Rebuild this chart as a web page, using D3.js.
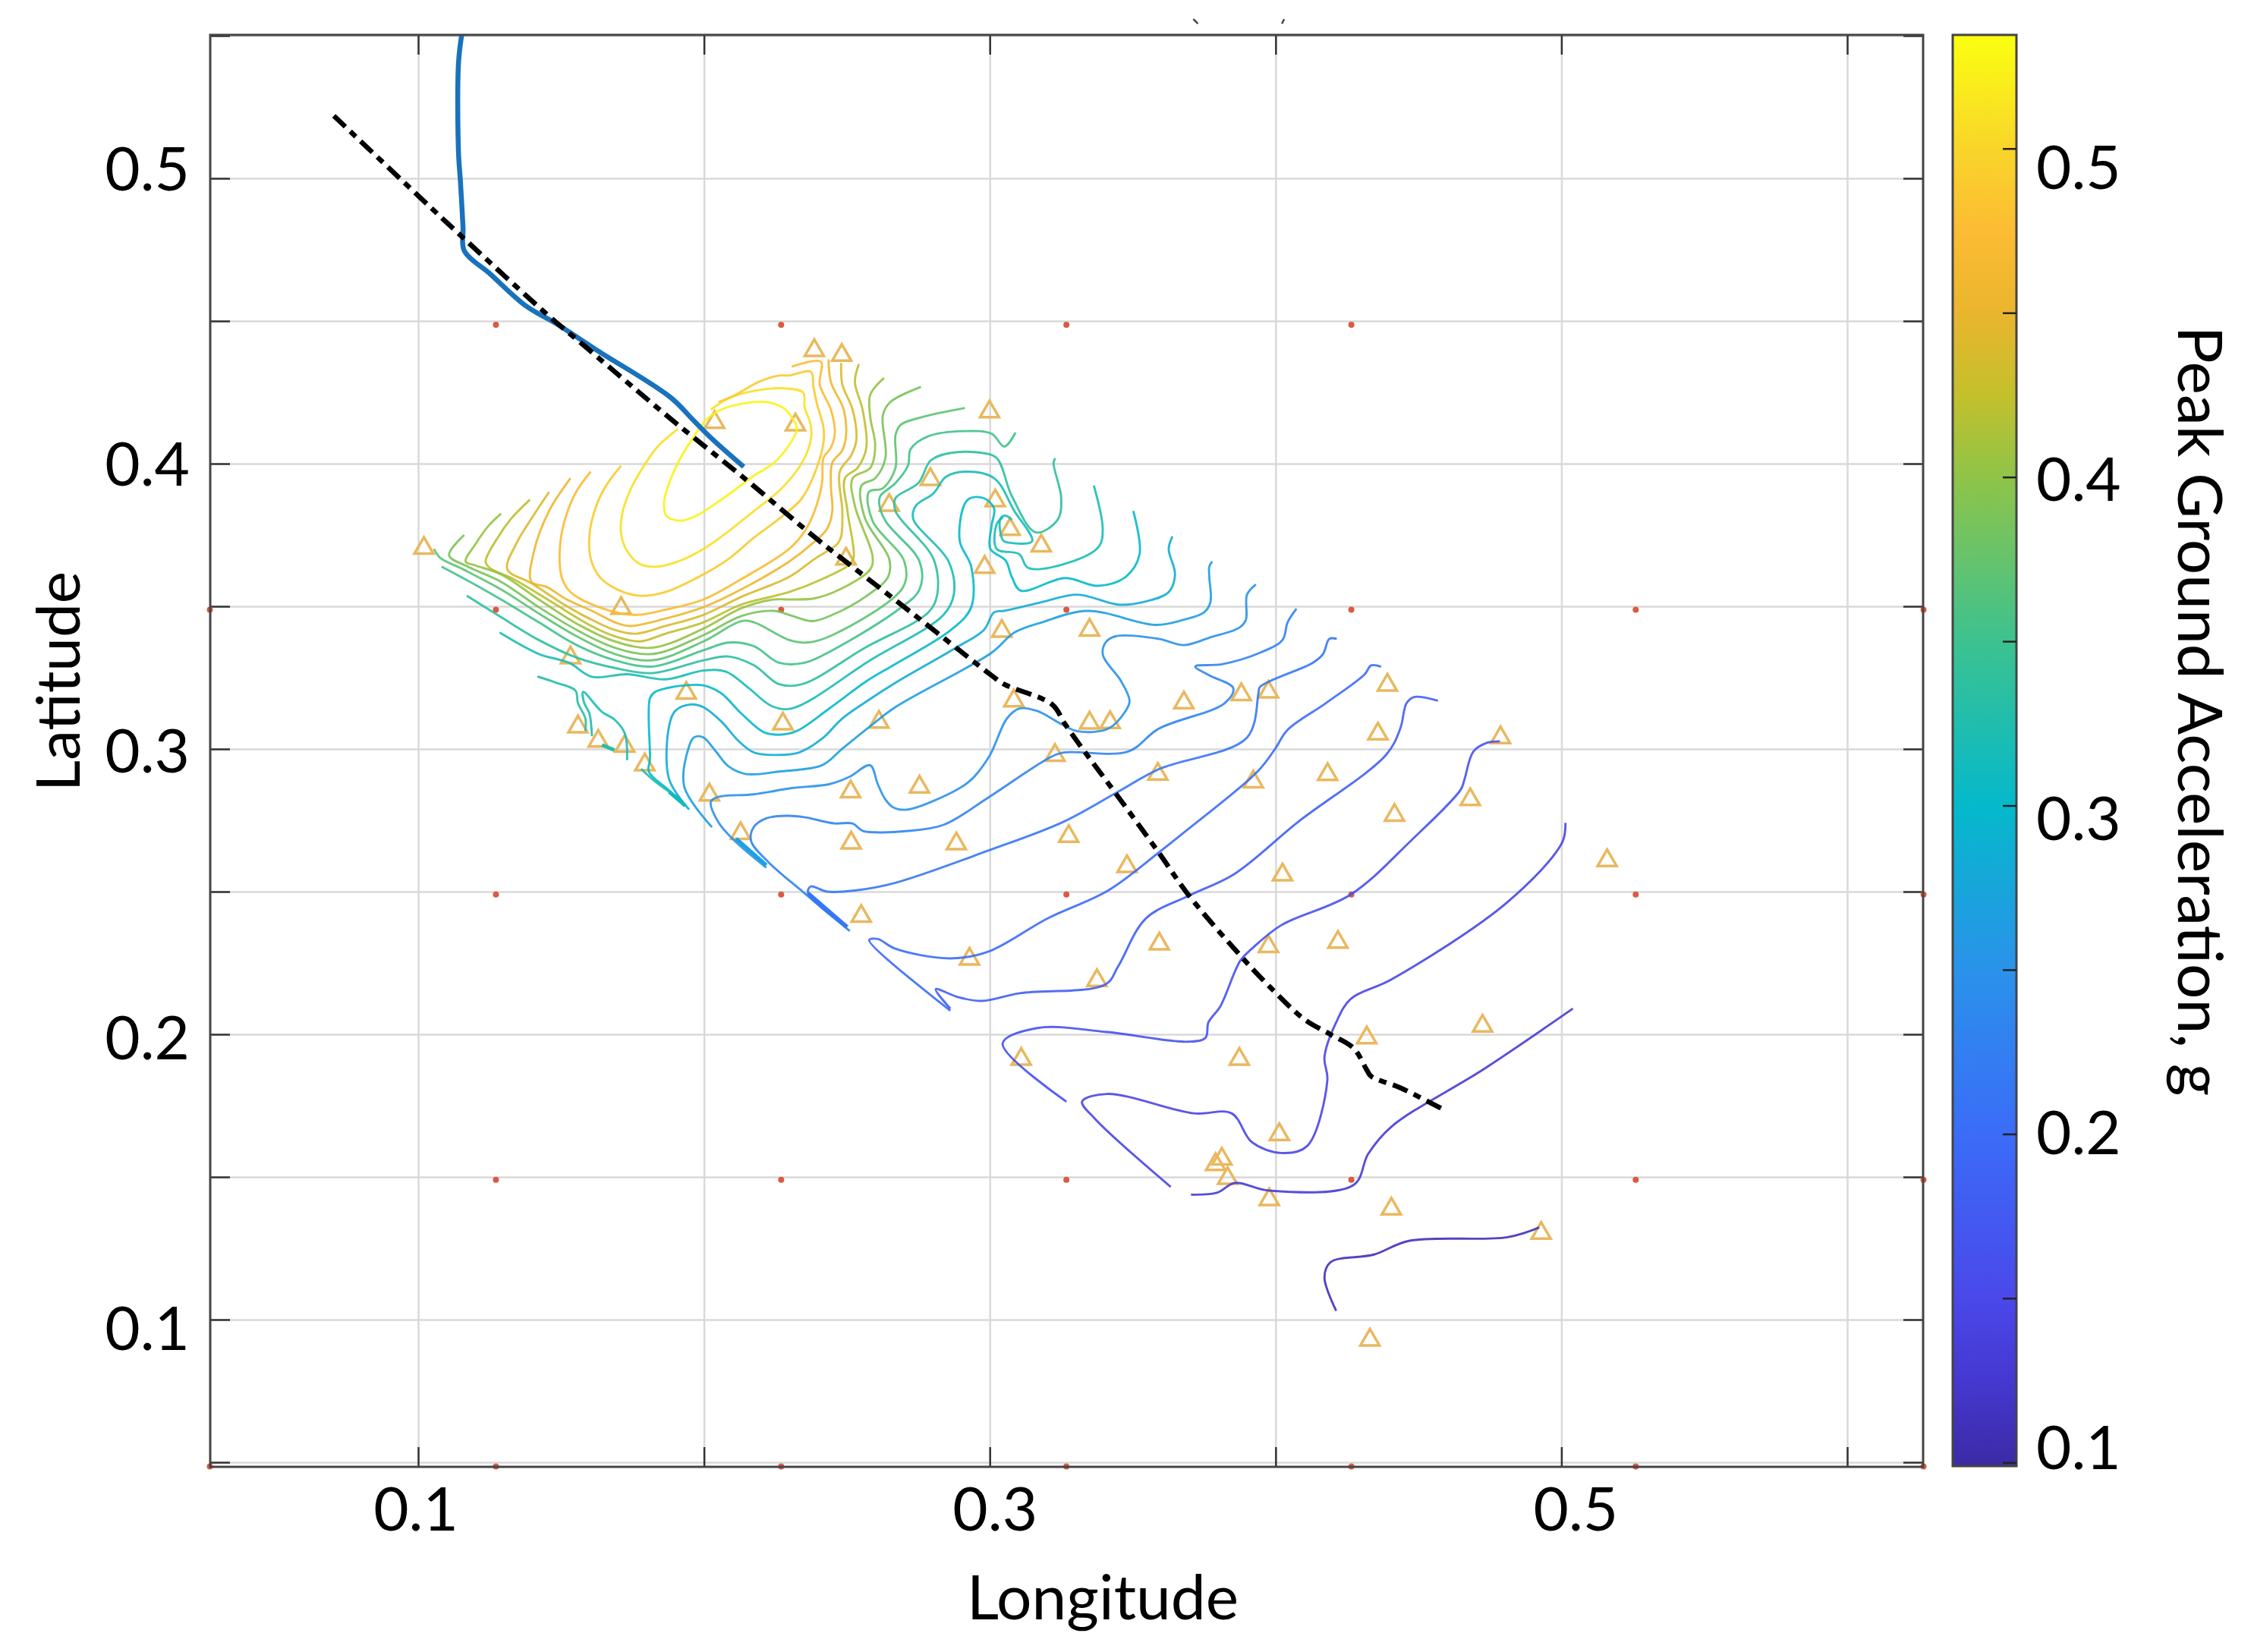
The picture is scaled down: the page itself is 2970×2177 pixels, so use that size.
<!DOCTYPE html>
<html>
<head>
<meta charset="utf-8">
<title>Peak ground acceleration</title>
<script src="https://cdn.jsdelivr.net/npm/d3@7"></script>
<style>
  html, body { margin: 0; padding: 0; background: #fff; }
  text { font-family: Lato, "Open Sans", sans-serif; fill: #000; }
</style>
</head>
<body>
<div id="chart"></div>
<script>
// tick values
var xGrid = [0.1, 0.2, 0.3, 0.4, 0.5, 0.6];
var yGrid = [0.05, 0.1, 0.15, 0.2, 0.25, 0.3, 0.35, 0.4, 0.45, 0.5, 0.55];
var xLabels = [0.1, 0.3, 0.5];
var yLabels = [0.1, 0.2, 0.3, 0.4, 0.5];
var cbTicks = [0.1, 0.15, 0.2, 0.25, 0.3, 0.35, 0.4, 0.45, 0.5];
var cbLabels = [0.1, 0.2, 0.3, 0.4, 0.5];

// colour bar
var cbValues = [0.099, 0.125, 0.15, 0.2, 0.25, 0.3, 0.35, 0.4, 0.425, 0.45, 0.475, 0.5, 0.5346];
var cbColors = ["#3c2aa5", "#4538d0", "#4a48ea", "#3b6cf8", "#2a92ea", "#05b9cb", "#3cc290", "#8fc448",
                "#c4c02c", "#eab52e", "#fcbc33", "#f9d52a", "#fbff10"];

// contour levels, one for each line below
var levels = [0.525, 0.508, 0.490, 0.473, 0.456, 0.439, 0.422, 0.404, 0.387, 0.370, 0.353, 0.336, 0.318,
              0.318, 0.301, 0.284, 0.266, 0.249, 0.232, 0.215, 0.198, 0.180, 0.163, 0.146, 0.129, 0.112,
              0.330, 0.320, 0.320];

// contour lines, [longitude, latitude]
var c01 = [[.2321,.4140],[.2281,.4193],[.2219,.4216],[.2139,.4211],[.2059,.4189],[.2006,.4153],[.1962,.4091],[.1918,.4020],[.1878,.3932],[.1860,.3861],[.1869,.3816],[.1918,.3800],[.1980,.3821],[.2042,.3861],[.2104,.3905],[.2175,.3958],[.2245,.4003],[.2298,.4065],[.2325,.4118],[.2321,.4140]];
var c02 = [[.1909,.4122],[.1838,.4060],[.1785,.3985],[.1741,.3905],[.1714,.3825],[.1710,.3754],[.1732,.3692],[.1776,.3648],[.1838,.3639],[.1909,.3657],[.1998,.3701],[.2086,.3763],[.2175,.3834],[.2263,.3905],[.2325,.3976],[.2360,.4038],[.2376,.4100],[.2371,.4145],[.2352,.4198],[.2347,.4249],[.2281,.4264],[.2175,.4255],[.2086,.4229],[.2024,.4189]];
var c03 = [[.1710,.3993],[.1652,.3914],[.1617,.3834],[.1599,.3745],[.1604,.3666],[.1635,.3603],[.1697,.3559],[.1776,.3537],[.1865,.3550],[.1998,.3612],[.2086,.3666],[.2175,.3741],[.2263,.3807],[.2343,.3879],[.2391,.3976],[.2418,.4074],[.2418,.4127],[.2396,.4207],[.2383,.4269],[.2374,.4322],[.2298,.4309],[.2263,.4309],[.2192,.4287],[.2104,.4238],[.2051,.4216]];
var c04 = [[.1604,.3972],[.1555,.3905],[.1520,.3825],[.1497,.3719],[.1502,.3603],[.1533,.3550],[.1644,.3493],[.1759,.3470],[.1865,.3488],[.1998,.3524],[.2130,.3595],[.2298,.3701],[.2352,.3763],[.2387,.3834],[.2413,.3932],[.2418,.4020],[.2444,.4056],[.2458,.4109],[.2444,.4189],[.2405,.4278],[.2409,.4357],[.2307,.4340]];
var c05 = [[.1533,.3949],[.1458,.3834],[.1405,.3692],[.1396,.3586],[.1449,.3568],[.1520,.3524],[.1608,.3484],[.1688,.3444],[.1741,.3431],[.1865,.3457],[.1998,.3497],[.2130,.3559],[.2298,.3657],[.2378,.3719],[.2431,.3772],[.2449,.3834],[.2444,.3923],[.2449,.4003],[.2484,.4047],[.2497,.4100],[.2489,.4189],[.2444,.4286],[.2436,.4366]];
var c06 = [[.1458,.3901],[.1396,.3807],[.1343,.3719],[.1312,.3630],[.1396,.3581],[.1511,.3506],[.1599,.3457],[.1688,.3417],[.1759,.3404],[.1865,.3431],[.1998,.3470],[.2130,.3533],[.2298,.3603],[.2387,.3666],[.2467,.3719],[.2480,.3745],[.2484,.3834],[.2475,.3972],[.2515,.4029],[.2533,.4082],[.2520,.4189],[.2484,.4278],[.2480,.4353]];
var c07 = [[.1391,.3874],[.1325,.3807],[.1281,.3745],[.1236,.3657],[.1250,.3635],[.1334,.3595],[.1467,.3515],[.1599,.3435],[.1688,.3395],[.1776,.3377],[.1865,.3404],[.1998,.3444],[.2130,.3506],[.2298,.3550],[.2413,.3595],[.2511,.3648],[.2524,.3674],[.2502,.3834],[.2493,.3949],[.2537,.3985],[.2568,.4056],[.2555,.4189],[.2528,.4286],[.2542,.4349]];
var c08 = [[.1290,.3825],[.1245,.3781],[.1201,.3719],[.1166,.3657],[.1201,.3643],[.1290,.3612],[.1422,.3524],[.1555,.3439],[.1688,.3377],[.1821,.3355],[.1998,.3422],[.2130,.3493],[.2245,.3524],[.2298,.3524],[.2387,.3528],[.2475,.3559],[.2582,.3630],[.2590,.3674],[.2528,.3852],[.2520,.3949],[.2582,.3985],[.2599,.4065],[.2582,.4162],[.2582,.4242],[.2630,.4300]];
var c09 = [[.1161,.3750],[.1108,.3679],[.1174,.3639],[.1290,.3586],[.1422,.3497],[.1555,.3417],[.1688,.3355],[.1821,.3333],[.1998,.3399],[.2130,.3466],[.2245,.3484],[.2298,.3470],[.2378,.3448],[.2449,.3470],[.2564,.3533],[.2644,.3603],[.2648,.3666],[.2564,.3807],[.2551,.3923],[.2599,.3949],[.2635,.4020],[.2626,.4171],[.2652,.4216],[.2759,.4269]];
var c10 = [[.1055,.3701],[.1077,.3670],[.1157,.3630],[.1290,.3559],[.1422,.3475],[.1555,.3395],[.1688,.3333],[.1821,.3311],[.1998,.3377],[.2130,.3448],[.2175,.3444],[.2298,.3382],[.2360,.3373],[.2449,.3399],[.2697,.3568],[.2701,.3657],[.2590,.3799],[.2577,.3901],[.2626,.3914],[.2670,.3985],[.2670,.4100],[.2688,.4136],[.2759,.4162],[.2913,.4195]];
var c11 = [[.1082,.3639],[.1157,.3599],[.1290,.3524],[.1422,.3444],[.1555,.3364],[.1688,.3311],[.1821,.3289],[.1998,.3346],[.2086,.3373],[.2175,.3360],[.2263,.3302],[.2352,.3302],[.2449,.3346],[.2679,.3488],[.2754,.3559],[.2754,.3657],[.2635,.3799],[.2613,.3861],[.2617,.3887],[.2670,.3932],[.2714,.3994],[.2723,.4051],[.2785,.4096],[.2909,.4114],[.3006,.4105],[.3051,.4060],[.3090,.4109]];
var c12 = [[.1170,.3537],[.1290,.3462],[.1422,.3382],[.1555,.3320],[.1688,.3284],[.1821,.3266],[.1998,.3311],[.2086,.3324],[.2175,.3293],[.2263,.3227],[.2343,.3227],[.2564,.3355],[.2785,.3479],[.2816,.3541],[.2803,.3666],[.2670,.3834],[.2670,.3879],[.2750,.3932],[.2794,.4012],[.2865,.4038],[.2971,.4038],[.3024,.4020],[.3077,.3887],[.3161,.3759],[.3237,.3803],[.3250,.3879],[.3223,.4003],[.3229,.4019]];
var c13 = [[.1285,.3408],[.1422,.3333],[.1528,.3302],[.1608,.3253],[.1732,.3262],[.1865,.3244],[.1998,.3275],[.2077,.3271],[.2157,.3213],[.2236,.3151],[.2307,.3142],[.2582,.3311],[.2838,.3470],[.2874,.3541],[.2856,.3657],[.2732,.3807],[.2741,.3852],[.2803,.3896],[.2847,.3954],[.2918,.3972],[.3015,.3949],[.3086,.3834],[.3148,.3728],[.3068,.3723],[.3046,.3732],[.3037,.3807],[.3055,.3818],[.3077,.3803]];
var c13b = [[.3046,.3812],[.3025,.3790],[.3024,.3701],[.3103,.3683],[.3134,.3635],[.3272,.3652],[.3382,.3710],[.3395,.3772],[.3364,.3923]];
var c14 = [[.1926,.2815],[.1873,.2859],[.1807,.2921],[.1811,.2965],[.1811,.3178],[.1829,.3200],[.1873,.3214],[.1935,.3223],[.1997,.3223],[.2059,.3196],[.2130,.3125],[.2209,.3059],[.2263,.3050],[.2324,.3063],[.2440,.3143],[.2572,.3240],[.2670,.3298],[.2864,.3417],[.2935,.3497],[.2935,.3639],[.2895,.3728],[.2909,.3852],[.2931,.3879],[.2979,.3879],[.3015,.3843],[.3006,.3781],[.3002,.3701],[.3055,.3661],[.3077,.3603],[.3108,.3555],[.3263,.3599],[.3378,.3572],[.3475,.3603],[.3524,.3683],[.3502,.3834]];
var c15 = [[.1948,.2788],[.1878,.2894],[.1878,.3081],[.1900,.3134],[.1953,.3156],[.1997,.3147],[.2059,.3098],[.2121,.3028],[.2174,.2988],[.2245,.2979],[.2333,.2988],[.2413,.3036],[.2484,.3107],[.2572,.3169],[.2670,.3232],[.2882,.3355],[.2979,.3417],[.3015,.3479],[.3050,.3484],[.3183,.3515],[.3307,.3541],[.3449,.3506],[.3537,.3515],[.3626,.3550],[.3648,.3612],[.3626,.3701],[.3639,.3745]];
var c16 = [[.2028,.2726],[.1931,.2868],[.1948,.3010],[.1966,.3041],[.1997,.3041],[.2041,.2992],[.2086,.2939],[.2147,.2912],[.2263,.2921],[.2413,.2943],[.2484,.3001],[.2572,.3072],[.2670,.3147],[.3006,.3337],[.3086,.3408],[.3183,.3444],[.3342,.3484],[.3581,.3435],[.3679,.3453],[.3750,.3479],[.3772,.3515],[.3768,.3603],[.3768,.3639],[.3778,.3657]];
var c17 = [[.2218,.2584],[.2103,.2682],[.2050,.2744],[.2024,.2815],[.2050,.2832],[.2174,.2841],[.2307,.2863],[.2440,.2877],[.2510,.2903],[.2581,.2943],[.2608,.2877],[.2634,.2824],[.2661,.2796],[.2706,.2787],[.2794,.2814],[.2927,.2885],[.2998,.2974],[.3060,.3107],[.3104,.3142],[.3166,.3133],[.3254,.3085],[.3307,.3062],[.3414,.3071],[.3475,.3133],[.3489,.3169],[.3458,.3240],[.3396,.3328],[.3405,.3373],[.3440,.3395],[.3591,.3386],[.3679,.3364],[.3768,.3390],[.3874,.3426],[.3896,.3453],[.3900,.3541],[.3931,.3577]];
var c18 = [[.2510,.2362],[.2351,.2495],[.2227,.2602],[.2165,.2677],[.2174,.2726],[.2218,.2757],[.2289,.2766],[.2351,.2761],[.2457,.2739],[.2519,.2739],[.2555,.2713],[.2599,.2708],[.2706,.2712],[.2838,.2734],[.2998,.2832],[.3201,.2965],[.3254,.2987],[.3484,.2991],[.3591,.3071],[.3821,.3160],[.3852,.3213],[.3768,.3258],[.3719,.3289],[.3812,.3297],[.3945,.3337],[.4024,.3382],[.4042,.3444],[.4073,.3492]];
var c19 = [[.2493,.2380],[.2364,.2495],[.2373,.2518],[.2431,.2500],[.2528,.2504],[.2670,.2531],[.2998,.2645],[.3254,.2743],[.3440,.2845],[.3591,.2929],[.3900,.3040],[.3940,.3195],[.3945,.3217],[.4130,.3302],[.4166,.3333],[.4188,.3386],[.4214,.3386]];
var c20 = [[.2862,.2083],[.2578,.2330],[.2608,.2334],[.2669,.2300],[.2862,.2266],[.2998,.2291],[.3200,.2405],[.3414,.2504],[.3591,.2637],[.3679,.2707],[.3936,.2920],[.3998,.3000],[.4042,.3067],[.4175,.3160],[.4312,.3262],[.4334,.3293],[.4369,.3288]];
var c21 = [[.2862,.2090],[.2811,.2158],[.2890,.2130],[.2973,.2117],[.3105,.2144],[.3405,.2175],[.3449,.2238],[.3546,.2406],[.3697,.2486],[.3856,.2562],[.4077,.2743],[.4387,.2980],[.4436,.3071],[.4458,.3160],[.4484,.3182],[.4568,.3169]];
var c22 = [[.3268,.1764],[.3045,.1968],[.3166,.2022],[.3410,.2008],[.3694,.1974],[.3755,.1988],[.3765,.2042],[.3806,.2097],[.3877,.2259],[.3917,.2300],[.4019,.2382],[.4263,.2490],[.4476,.2681],[.4648,.2858],[.4661,.2894],[.4692,.2991],[.4741,.3022],[.4785,.3027]];
var c23 = [[.3633,.1465],[.3369,.1703],[.3323,.1764],[.3410,.1791],[.3714,.1723],[.3846,.1723],[.3917,.1622],[.4019,.1584],[.4110,.1608],[.4181,.1839],[.4171,.1920],[.4212,.2042],[.4263,.2124],[.4405,.2192],[.4811,.2463],[.5003,.2673],[.5014,.2741]];
var c24 = [[.3704,.1438],[.3796,.1445],[.3857,.1479],[.3978,.1452],[.4273,.1472],[.4324,.1581],[.4405,.1676],[.4730,.1879],[.5040,.2090]];
var c25 = [[.4212,.1031],[.4171,.1147],[.4192,.1201],[.4344,.1228],[.4466,.1276],[.4811,.1289],[.4922,.1323]];
var p1 = [[.1417,.3254],[.1484,.3232],[.1550,.3205],[.1559,.3161],[.1585,.3107],[.1585,.3063]];
var p2 = [[.1608,.3045],[.1599,.3125],[.1581,.3161],[.1577,.3200],[.1643,.3130],[.1687,.3103],[.1723,.3054],[.1731,.2961]];
var p3 = [[.1780,.2930],[.1830,.2885],[.1878,.2850]];
var contourLines = [c01, c02, c03, c04, c05, c06, c07, c08, c09, c10, c11, c12, c13, c13b, c14, c15, c16, c17,
                    c18, c19, c20, c21, c22, c23, c24, c25, p1, p2, p3];

// short thick smears along the south west edge
var smearLevels = [0.31, 0.33, 0.27, 0.215];
var smears = [
  [[.1878,.2850],[.1935,.2801]],
  [[.1643,.3014],[.1687,.2996]],
  [[.2112,.2686],[.2218,.2593]],
  [[.2364,.2495],[.2501,.2376]]
];

// thick blue line and the dashed black line
var blueLine = [[.1152,.5501],[.1141,.5403],[.1141,.5093],[.1148,.4987],[.1157,.4827],[.1161,.4747],[.1254,.4663],[.1378,.4552],[.1484,.4490],[.1626,.4397],[.1882,.4233],[.1962,.4153],[.2024,.4091],[.2139,.3989]];
var blackLine = [[.0705,.5219],[.0997,.4942],[.1157,.4792],[.1458,.4517],[.1573,.4420],[.1767,.4255],[.1909,.4136],[.2130,.3958],[.2405,.3728],[.2519,.3639],[.2741,.3466],[.2944,.3306],[.3006,.3258],[.3050,.3227],[.3218,.3156],[.3262,.3089],[.3325,.3000],[.3440,.2845],[.3591,.2637],[.3697,.2486],[.3891,.2260],[.3978,.2168],[.4100,.2053],[.4191,.2000],[.4273,.1951],[.4319,.1875],[.4334,.1853],[.4435,.1813],[.4588,.1736]];

// stations
var stations = [[.2386,.4397],[.2482,.4380],[.2320,.4136],[.2999,.4182],[.2792,.3945],[.2648,.3854],[.3019,.3870],[.3071,.3770],[.3180,.3712],[.2982,.3637],[.2497,.3666],[.2037,.4145],[.1710,.3493],[.1533,.3320],[.1020,.3704],
  [.1559,.3078],[.1630,.3028],[.1723,.3010],[.1793,.2945],[.1938,.3196],[.2276,.3088],[.2612,.3094],[.2019,.2839],[.2128,.2704],[.2513,.2850],[.2515,.2671],[.2550,.2414],
  [.3042,.3413],[.3349,.3417],[.3084,.3169],[.3349,.3091],[.3421,.3093],[.3679,.3162],[.3880,.3191],[.3975,.3200],[.3228,.2978],[.3588,.2912],[.3922,.2885],[.2754,.2867],[.2883,.2668],[.3276,.2694],[.3480,.2588],[.3593,.2317],[.2929,.2264],[.3375,.2189],[.3975,.2308],
  [.4391,.3224],[.4358,.3053],[.4787,.3040],[.4681,.2823],[.4182,.2911],[.4416,.2768],[.4024,.2559],
  [.5160,.2609],[.4724,.2029],[.4319,.1988],[.3873,.1913],[.4013,.1649],[.3812,.1563],[.3790,.1544],[.3832,.1495],[.3978,.1421],[.4405,.1388],[.4929,.1303],[.4330,.0929],[.4218,.2323],[.3110,.1913]];

// red grid points, rows of longitudes
var dotLats = [0.4487, 0.3488, 0.2490, 0.1490, 0.0485];
var dotRows = [
  [.1272, .2270, .3268, .4265],
  [.0271, .1272, .2270, .3268, .4265, .5260, .6267],
  [.1272, .2270, .3268, .4265, .5260, .6267],
  [.1272, .2270, .3268, .4265, .5260, .6267],
  [.0271, .1272, .2270, .3268, .4265, .5260, .6267]
];

// two specks above the frame
var specks = [[[.3712,.5558],[.3728,.5542]], [[.4030,.5558],[.4022,.5542]]];

// the pasted labels sit a little off their ticks
var xLabelNudge = [-3, 7, 19];
var yLabelNudge = [11, 4, 2, 0, -13];
var cbLabelNudge = [-20, -2, 17, 3, 24];

(function(){
    var width = 2970, height = 2177;
    var left = 277, right = 2534, top = 46, bottom = 1933;
    var cbLeft = 2573, cbRight = 2657;
    var tickLen = 26;
    var frameColor = "#444", gridColor = "#d9d9d9";

    var x = d3.scaleLinear().domain([.02724, .62655]).range([left, right]);
    var y = d3.scaleLinear().domain([.04840, .55027]).range([bottom, top]);
    var cb = d3.scaleLinear().domain([.0989, .5346]).range([1932, 46]);
    var colour = d3.scaleLinear().domain(cbValues).range(cbColors).interpolate(d3.interpolateRgb);

    var svg = d3.select("#chart").append("svg")
                .attr("width", width).attr("height", height)
                .style("display", "block");

    var lineGen = d3.line()
                    .x(function(d){ return x(d[0]); })
                    .y(function(d){ return y(d[1]); })
                    .curve(d3.curveCatmullRom.alpha(0.5));

    // grid
    svg.append("g").attr("transform", "translate(0," + bottom + ")")
       .call(d3.axisBottom(x).tickValues(xGrid).tickSize(top - bottom).tickFormat(""))
       .call(function(g){ g.select(".domain").remove(); g.selectAll("line").attr("stroke", gridColor).attr("stroke-width", 2.5); });
    svg.append("g").attr("transform", "translate(" + left + ",0)")
       .call(d3.axisLeft(y).tickValues(yGrid).tickSize(left - right).tickFormat(""))
       .call(function(g){ g.select(".domain").remove(); g.selectAll("line").attr("stroke", gridColor).attr("stroke-width", 2.5); });

    // inner ticks on all four sides
    function styleTicks(g){
        g.select(".domain").remove();
        g.selectAll("line").attr("stroke", "#333").attr("stroke-width", 2.5);
    }
    svg.append("g").attr("transform", "translate(0," + bottom + ")")
       .call(d3.axisBottom(x).tickValues(xGrid).tickSize(-tickLen).tickFormat("")).call(styleTicks);
    svg.append("g").attr("transform", "translate(0," + top + ")")
       .call(d3.axisTop(x).tickValues(xGrid).tickSize(-tickLen).tickFormat("")).call(styleTicks);
    svg.append("g").attr("transform", "translate(" + left + ",0)")
       .call(d3.axisLeft(y).tickValues(yGrid).tickSize(-tickLen).tickFormat("")).call(styleTicks);
    svg.append("g").attr("transform", "translate(" + right + ",0)")
       .call(d3.axisRight(y).tickValues(yGrid).tickSize(-tickLen).tickFormat("")).call(styleTicks);

    // red points
    var dots = svg.append("g");
    dotRows.forEach(function(row, i){
        dots.selectAll(null).data(row).enter().append("circle")
            .attr("cx", function(d){ return x(d); })
            .attr("cy", y(dotLats[i]))
            .attr("r", 4)
            .attr("fill", "#da5a44");
    });

    // stations
    var triPath = d3.symbol().type(d3.symbolTriangle).size(270);
    svg.append("g").selectAll("path").data(stations).enter().append("path")
       .attr("d", triPath)
       .attr("transform", function(d){ return "translate(" + x(d[0]) + "," + y(d[1]) + ")"; })
       .attr("fill", "none")
       .attr("stroke", "#e9b85e")
       .attr("stroke-width", 3.5);

    // contours
    svg.append("g").selectAll("path").data(contourLines).enter().append("path")
       .attr("d", lineGen)
       .attr("fill", "none")
       .attr("stroke", function(d, i){ return colour(levels[i]); })
       .attr("stroke-width", 2.9)
       .attr("stroke-opacity", 0.9)
       .attr("stroke-linejoin", "round");
    svg.append("g").selectAll("path").data(smears).enter().append("path")
       .attr("d", lineGen)
       .attr("fill", "none")
       .attr("stroke", function(d, i){ return colour(smearLevels[i]); })
       .attr("stroke-width", 5);

    // thick lines
    svg.append("path").datum(blueLine)
       .attr("d", lineGen).attr("fill", "none")
       .attr("stroke", "#1a72bd").attr("stroke-width", 6.5);
    svg.append("path").datum(blackLine)
       .attr("d", lineGen).attr("fill", "none")
       .attr("stroke", "#000").attr("stroke-width", 6.5)
       .attr("stroke-dasharray", "21 9 10 9");

    svg.append("g").selectAll("path").data(specks).enter().append("path")
       .attr("d", lineGen).attr("fill", "none")
       .attr("stroke", "#444").attr("stroke-width", 2.5);

    // frame
    svg.append("rect")
       .attr("x", left).attr("y", top)
       .attr("width", right - left).attr("height", bottom - top)
       .attr("fill", "none").attr("stroke", frameColor).attr("stroke-width", 3);

    // tick labels
    svg.append("g").selectAll("text").data(xLabels).enter().append("text")
       .attr("x", function(d, i){ return x(d) + xLabelNudge[i]; })
       .attr("y", 1988)
       .attr("dy", "0.36em")
       .attr("text-anchor", "middle")
       .attr("font-size", 80)
       .text(function(d){ return d.toFixed(1); });
    svg.append("g").selectAll("text").data(yLabels).enter().append("text")
       .attr("x", 250)
       .attr("y", function(d, i){ return y(d) + yLabelNudge[i]; })
       .attr("dy", "0.36em")
       .attr("text-anchor", "end")
       .attr("font-size", 80)
       .text(function(d){ return d.toFixed(1); });

    // axis titles
    svg.append("text").attr("x", 1453).attr("y", 2104).attr("dy", "0.36em")
       .attr("text-anchor", "middle").attr("font-size", 82).text("Longitude");
    svg.append("text").attr("transform", "translate(76,898) rotate(-90)").attr("dy", "0.36em")
       .attr("text-anchor", "middle").attr("font-size", 80).text("Latitude");
    svg.append("text").attr("transform", "translate(2900,937) rotate(90)").attr("dy", "0.36em")
       .attr("text-anchor", "middle").attr("font-size", 82).text("Peak Ground Acceleration, g");

    // colour bar
    var grad = svg.append("defs").append("linearGradient")
                  .attr("id", "cbGrad")
                  .attr("x1", 0).attr("y1", 1).attr("x2", 0).attr("y2", 0);
    grad.selectAll("stop").data(cbValues).enter().append("stop")
        .attr("offset", function(d){ return (d - cbValues[0]) / (cbValues[cbValues.length - 1] - cbValues[0]); })
        .attr("stop-color", function(d, i){ return cbColors[i]; });
    svg.append("rect")
       .attr("x", cbLeft).attr("y", 46)
       .attr("width", cbRight - cbLeft).attr("height", 1932 - 46)
       .attr("fill", "url(#cbGrad)")
       .attr("stroke", frameColor).attr("stroke-width", 3);
    svg.append("g").attr("transform", "translate(" + cbRight + ",0)")
       .call(d3.axisRight(cb).tickValues(cbTicks).tickSize(-18).tickFormat(""))
       .call(function(g){ g.select(".domain").remove(); g.selectAll("line").attr("stroke", "#222").attr("stroke-width", 2.5); });
    svg.append("g").selectAll("text").data(cbLabels).enter().append("text")
       .attr("x", 2683)
       .attr("y", function(d, i){ return cb(d) + cbLabelNudge[i]; })
       .attr("dy", "0.36em")
       .attr("font-size", 80)
       .text(function(d){ return d.toFixed(1); });
})();
</script>
</body>
</html>
